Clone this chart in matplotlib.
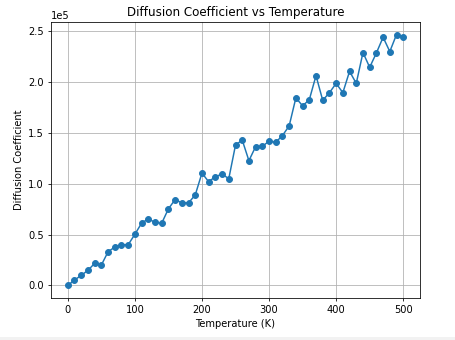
import numpy as np
import matplotlib
matplotlib.use("Agg")
import matplotlib.pyplot as plt
from matplotlib.patches import Rectangle

temperature = list(range(0, 510, 10))
diffusion = [0.00, 0.053, 0.099, 0.148, 0.217, 0.20, 0.33, 0.378, 0.40, 0.40,
             0.503, 0.612, 0.655, 0.62, 0.612, 0.753, 0.845, 0.812, 0.812, 0.89,
             1.105, 1.02, 1.07, 1.095, 1.05, 1.38, 1.43, 1.227, 1.365, 1.368,
             1.418, 1.408, 1.474, 1.569, 1.845, 1.766, 1.826, 2.063, 1.82, 1.895,
             1.987, 1.895, 2.105, 1.987, 2.29, 2.145, 2.286, 2.44, 2.30, 2.467,
             2.447]
diffusion = np.array(diffusion) * 1e5

dpi = 71
fig = plt.figure(figsize=(455 / dpi, 340 / dpi), dpi=dpi)
ax = fig.add_axes([51 / 455, 1 - 298 / 340, 369 / 455, 276 / 340])

ax.plot(temperature, diffusion, marker='o')
ax.set_title('Diffusion Coefficient vs Temperature')
ax.set_xlabel('Temperature (K)')
ax.set_ylabel('Diffusion Coefficient')
ax.ticklabel_format(style='sci', axis='y', scilimits=(0, 0))
ax.grid(True)

# light strip at the bottom like the notebook frame
fig.patches.append(Rectangle((0, 0), 1, 3 / 340, transform=fig.transFigure,
                             facecolor='#f2f2f2', edgecolor='none'))

fig.savefig('out.png', dpi=dpi)
